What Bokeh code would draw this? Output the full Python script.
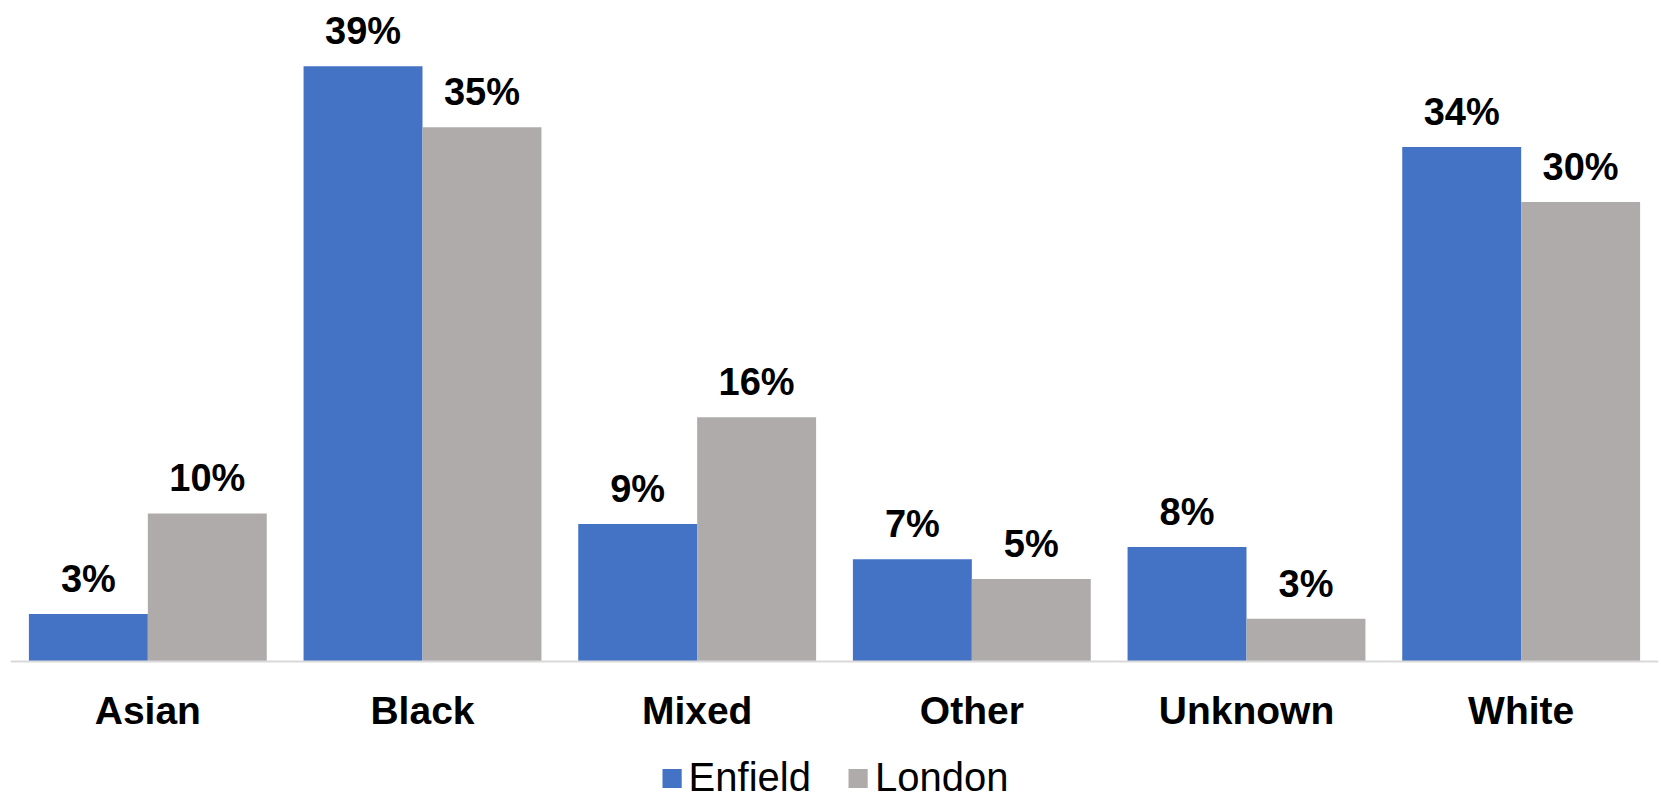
from bokeh.plotting import figure
from bokeh.models import ColumnDataSource, FactorRange, Range1d, Legend, LegendItem
from bokeh.transform import dodge
from bokeh.core.properties import value
from bokeh.embed import file_html
from bokeh.resources import INLINE

categories = ["Asian", "Black", "Mixed", "Other", "Unknown", "White"]
enfield = [3.1, 39.0, 9.0, 6.7, 7.5, 33.7]
london = [9.7, 35.0, 16.0, 5.4, 2.8, 30.1]
enfield_labels = ["3%", "39%", "9%", "7%", "8%", "34%"]
london_labels = ["10%", "35%", "16%", "5%", "3%", "30%"]
series = ["Enfield", "London"]
colors = ["#4472C4", "#AFABAB"]

src = ColumnDataSource(dict(cat=categories, enfield=enfield, london=london,
                            el=enfield_labels, ll=london_labels))

# frame spans the whole picture; value 0 sits at 661 px from the top
p = figure(frame_width=1648, frame_height=800, x_range=FactorRange(*categories),
           y_range=Range1d(-9.11, 43.3), output_backend="svg", toolbar_location=None,
           min_border_left=10, min_border_right=3, min_border_top=0, min_border_bottom=0)
p.x_range.range_padding = 0
p.outline_line_color = None
p.grid.grid_line_color = None
p.yaxis.visible = False

bw = 0.433
r1 = p.vbar(x=dodge("cat", -bw / 2, range=p.x_range), top="enfield", width=bw,
            source=src, fill_color=colors[0], line_color=None)
r2 = p.vbar(x=dodge("cat", bw / 2, range=p.x_range), top="london", width=bw,
            source=src, fill_color=colors[1], line_color=None)

common = dict(source=src, text_align="center", text_baseline="alphabetic",
              text_font=value("Liberation Sans"), text_font_style="bold",
              text_font_size="38px", text_color="black", y_offset=-35)
p.text(x=dodge("cat", -bw / 2, range=p.x_range), y="enfield", text="el", **common)
p.text(x=dodge("cat", bw / 2, range=p.x_range), y="london", text="ll", **common)

xa = p.xaxis[0]
xa.fixed_location = 0
xa.axis_line_color = "#D9D9D9"
xa.axis_line_width = 2
xa.major_tick_line_color = None
xa.minor_tick_line_color = None
xa.major_tick_out = 0
xa.major_tick_in = 0
xa.major_label_standoff = 28
xa.major_label_text_font = "Liberation Sans"
xa.major_label_text_font_style = "bold"
xa.major_label_text_font_size = "39px"
xa.major_label_text_color = "black"

legend = Legend(items=[LegendItem(label=series[0], renderers=[r1]),
                       LegendItem(label=series[1], renderers=[r2])],
                orientation="horizontal", location="bottom_center",
                label_text_font="Liberation Sans", label_text_font_size="40px",
                label_text_color="black", glyph_width=24, glyph_height=24,
                label_standoff=5, spacing=35, padding=0, margin=0,
                border_line_color=None, background_fill_alpha=0)
p.add_layout(legend)

open("out.html", "w").write(file_html(p, INLINE))
